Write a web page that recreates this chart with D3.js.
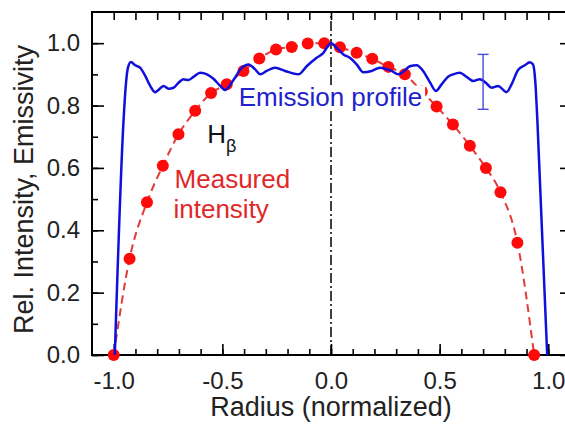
<!DOCTYPE html>
<html lang="en">
<head>
<meta charset="UTF-8">
<script src="https://d3js.org/d3.v7.min.js"></script>
<style>
  body { margin: 0; background: #fff; }
  svg { display: block; font-family: "Liberation Sans", Arial, sans-serif; }
</style>
</head>
<body>
<div id="my_chart"></div>
<script>
// measured intensity (red dots)
const dotX = [-1.0, -0.927, -0.847, -0.774, -0.702, -0.625, -0.552, -0.48, -0.403, -0.33, -0.253, -0.181,
  -0.107, -0.031, 0.041, 0.118, 0.19, 0.264, 0.34, 0.418, 0.486, 0.561, 0.639, 0.713, 0.78, 0.858, 0.935];
const dotY = [0, 0.309, 0.49, 0.607, 0.708, 0.783, 0.84, 0.868, 0.911, 0.951, 0.98, 0.988,
  0.999, 1.0, 0.987, 0.969, 0.95, 0.924, 0.9, 0.845, 0.797, 0.739, 0.671, 0.6, 0.522, 0.36, 0];

// emission profile (blue line)
const profX = [-0.995, -0.955, -0.945, -0.935, -0.921, -0.901, -0.878, -0.855, -0.832, -0.809, -0.794, -0.771,
  -0.748, -0.725, -0.702, -0.679, -0.656, -0.633, -0.602, -0.571, -0.541, -0.51, -0.487, -0.449, -0.411, -0.38,
  -0.349, -0.326, -0.296, -0.257, -0.211, -0.15, -0.112, -0.066, -0.035, -0.012, 0.0, 0.026, 0.057, 0.087, 0.118,
  0.149, 0.187, 0.225, 0.25, 0.279, 0.31, 0.335, 0.363, 0.394, 0.424, 0.455, 0.483, 0.509, 0.54, 0.562, 0.593,
  0.624, 0.654, 0.685, 0.716, 0.739, 0.769, 0.808, 0.831, 0.861, 0.892, 0.915, 0.93, 0.94, 0.95, 0.995];
const profY = [0, 0.75, 0.86, 0.92, 0.94, 0.929, 0.921, 0.895, 0.863, 0.843, 0.85, 0.863,
  0.854, 0.857, 0.873, 0.884, 0.882, 0.892, 0.905, 0.9, 0.886, 0.863, 0.85, 0.882, 0.921, 0.932,
  0.916, 0.9, 0.911, 0.921, 0.911, 0.9, 0.926, 0.953, 0.969, 0.993, 1.0, 0.985, 0.964, 0.953, 0.932,
  0.907, 0.911, 0.921, 0.918, 0.911, 0.9, 0.91, 0.926, 0.929, 0.911, 0.875, 0.847, 0.868, 0.893, 0.9, 0.905,
  0.892, 0.879, 0.884, 0.871, 0.857, 0.863, 0.843, 0.868, 0.914, 0.929, 0.939, 0.932, 0.88, 0.75, 0];

// error bar on the profile
const errX = [0.70];
const errLo = [0.788];
const errHi = [0.964];

// ticks
const xMajor = [-1.0, -0.5, 0.0, 0.5, 1.0];
const xMinor = d3.range(-10, 11).map(i => i / 10);
const yMajor = [0.0, 0.2, 0.4, 0.6, 0.8, 1.0];
const yMinor = d3.range(0, 11).map(i => i / 10);

const margin = { top: 12, right: 0, bottom: 69, left: 92 },
  width = 478,
  height = 424 - margin.top - margin.bottom;

const svg = d3.select("#my_chart").append("svg")
  .attr("width", 565).attr("height", 424)
  .append("g")
  .attr("transform", `translate(${margin.left},${margin.top})`);

const x = d3.scaleLinear().domain([-1.1, 1.1]).range([0, width]);
const y = d3.scaleLinear().domain([0, 1.1]).range([height, 0]);
const fmt = d => d.toFixed(1);

function styleAxis(g) {
  g.select(".domain").remove();
  g.selectAll("line").attr("stroke", "#000").attr("stroke-width", 1.6);
  g.selectAll("text").attr("fill", "#222").style("font-size", "24px");
}

// minor ticks
svg.append("g").attr("transform", `translate(0,${height})`)
  .call(d3.axisBottom(x).tickValues(xMinor).tickSize(-6).tickFormat("")).call(styleAxis);
svg.append("g")
  .call(d3.axisTop(x).tickValues(xMinor).tickSize(-8).tickFormat("")).call(styleAxis);
svg.append("g")
  .call(d3.axisLeft(y).tickValues(yMinor).tickSize(-6).tickFormat("")).call(styleAxis);
svg.append("g").attr("transform", `translate(${width},0)`)
  .call(d3.axisRight(y).tickValues(yMinor).tickSize(-5).tickFormat("")).call(styleAxis);

// major ticks with labels
svg.append("g").attr("transform", `translate(0,${height})`)
  .call(d3.axisBottom(x).tickValues(xMajor).tickSize(-11).tickPadding(17).tickFormat(fmt)).call(styleAxis);
svg.append("g")
  .call(d3.axisLeft(y).tickValues(yMajor).tickSize(-12).tickPadding(12).tickFormat(fmt)).call(styleAxis);
svg.append("g").attr("transform", `translate(${width},0)`)
  .call(d3.axisRight(y).tickValues(yMajor).tickSize(-10).tickFormat("")).call(styleAxis);

// frame
svg.append("rect").attr("width", width).attr("height", height)
  .attr("fill", "none").attr("stroke", "#000").attr("stroke-width", 2);

// centre line
svg.append("line")
  .attr("x1", x(0)).attr("x2", x(0)).attr("y1", y(0)).attr("y2", y(1.1))
  .attr("stroke", "#000").attr("stroke-width", 1.5)
  .attr("stroke-dasharray", "10,3,2,3");

// measured intensity
const dots = dotX.map((d, i) => [d, dotY[i]]);
svg.append("path").datum(dots)
  .attr("fill", "none").attr("stroke", "#e23a3a").attr("stroke-width", 2)
  .attr("stroke-dasharray", "8,5")
  .attr("d", d3.line().x(d => x(d[0])).y(d => y(d[1])).curve(d3.curveMonotoneX));
svg.selectAll("circle.dot").data(dots).enter().append("circle")
  .attr("class", "dot")
  .attr("cx", d => x(d[0])).attr("cy", d => y(d[1])).attr("r", 6)
  .attr("fill", "#ff0a0a");

// emission profile
const prof = profX.map((d, i) => [d, profY[i]]);
svg.append("path").datum(prof)
  .attr("fill", "none").attr("stroke", "#1010dd").attr("stroke-width", 2.5)
  .attr("d", d3.line().x(d => x(d[0])).y(d => y(d[1])).curve(d3.curveMonotoneX));

// error bar
errX.forEach((ex, i) => {
  const g = svg.append("g").attr("stroke", "#4a4ad8").attr("stroke-width", 1.4);
  g.append("line").attr("x1", x(ex)).attr("x2", x(ex)).attr("y1", y(errLo[i])).attr("y2", y(errHi[i]));
  [errLo[i], errHi[i]].forEach(v => g.append("line")
    .attr("x1", x(ex) - 5.5).attr("x2", x(ex) + 5.5).attr("y1", y(v)).attr("y2", y(v)));
});

// annotations
const emis = svg.append("text")
  .attr("x", x(-0.425)).attr("y", y(0.8))
  .attr("fill", "#2222cc").style("font-size", "26px")
  .text("Emission profile");
const bb = emis.node().getBBox();
svg.insert("rect", () => emis.node())
  .attr("x", bb.x - 1).attr("y", bb.y + 4).attr("width", bb.width + 4).attr("height", bb.height - 6)
  .attr("fill", "#fff");

const hb = svg.append("text")
  .attr("x", x(-0.57)).attr("y", y(0.68))
  .attr("fill", "#111").style("font-size", "26px");
hb.append("tspan").text("H");
hb.append("tspan").attr("dy", 9).style("font-size", "18px").text("β");

const meas = svg.append("text").attr("fill", "#e02828").style("font-size", "26px");
meas.append("tspan").attr("x", x(-0.72)).attr("y", y(0.535)).text("Measured");
meas.append("tspan").attr("x", x(-0.725)).attr("y", y(0.44)).text("intensity");

// axis titles
svg.append("text")
  .attr("x", x(0)).attr("y", height + 61)
  .attr("text-anchor", "middle").attr("fill", "#222").style("font-size", "27px")
  .text("Radius (normalized)");
svg.append("text")
  .attr("transform", `translate(-59,${height / 2 + 6}) rotate(-90)`)
  .attr("text-anchor", "middle").attr("fill", "#222").style("font-size", "27px")
  .text("Rel. Intensity, Emissivity");
</script>
</body>
</html>
